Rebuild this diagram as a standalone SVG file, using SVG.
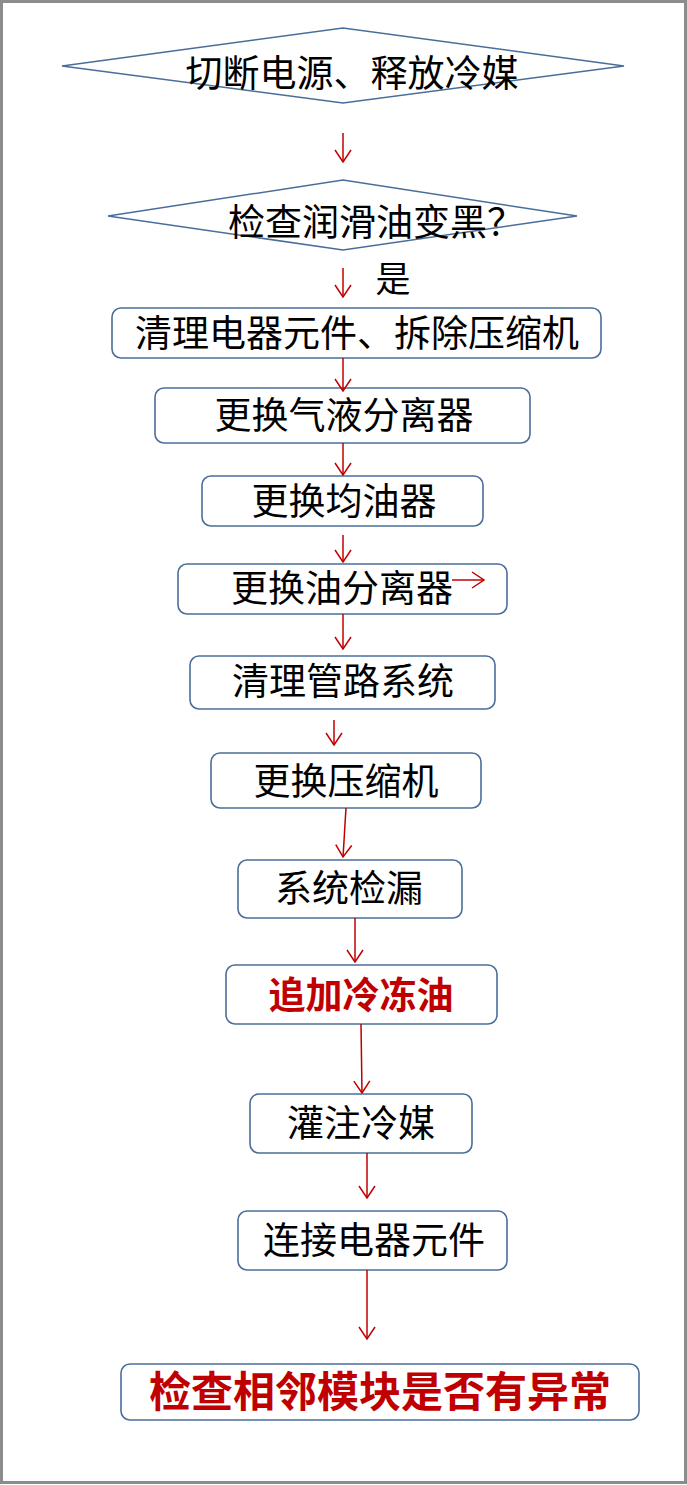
<svg xmlns="http://www.w3.org/2000/svg" width="687" height="1485" viewBox="0 0 687 1485">
<style>
.frame{fill:#ffffff;stroke:#8c8c8c;stroke-width:3}
.dia{fill:none;stroke:#4a6d99;stroke-width:1.5}
.box{fill:#ffffff;stroke:#4a6d99;stroke-width:1.6}
.t{font-family:"Noto Sans CJK SC","Noto Sans",sans-serif;font-size:37px;fill:#000;text-anchor:middle}
.r{fill:#c00000;font-weight:bold}
.arr{fill:none;stroke:#c00000;stroke-width:1.5;marker-end:url(#ah)}
</style>
<defs>
<marker id="ah" markerUnits="userSpaceOnUse" viewBox="-1 -1 14 18" refX="12" refY="8" markerWidth="14" markerHeight="18" orient="auto">
<path d="M0,0 L12,8 L0,16" fill="none" stroke="#c00000" stroke-width="1.5"/>
</marker>
</defs>
<rect class="frame" x="1.5" y="1.5" width="684" height="1481"/>
<g id="n1"><polygon class="dia" points="62,66 343,28 624,66 343,103"/><text class="t" x="352" y="87">切断电源、释放冷媒</text></g>
<g id="n2"><polygon class="dia" points="108,216 343,180 577,216 343,250"/><text class="t" x="376" y="236">检查润滑油变黑？</text></g>
<g id="n3"><rect class="box" x="112" y="308" width="489" height="50" rx="9"/><text class="t" x="357" y="347">清理电器元件、拆除压缩机</text></g>
<g id="n4"><rect class="box" x="155" y="388" width="375" height="55" rx="9"/><text class="t" x="344" y="429">更换气液分离器</text></g>
<g id="n5"><rect class="box" x="202" y="476" width="281" height="50" rx="9"/><text class="t" x="344" y="515">更换均油器</text></g>
<g id="n6"><rect class="box" x="178" y="564" width="329" height="50" rx="9"/><text class="t" x="342" y="602">更换油分离器</text></g>
<g id="n7"><rect class="box" x="190" y="656" width="305" height="53" rx="9"/><text class="t" x="343" y="695">清理管路系统</text></g>
<g id="n8"><rect class="box" x="211" y="753" width="270" height="55" rx="9"/><text class="t" x="346" y="795">更换压缩机</text></g>
<g id="n9"><rect class="box" x="238" y="860" width="224" height="58" rx="9"/><text class="t" x="349" y="902">系统检漏</text></g>
<g id="n10"><rect class="box" x="226" y="965" width="271" height="59" rx="9"/><text class="t r" x="361" y="1009">追加冷冻油</text></g>
<g id="n11"><rect class="box" x="250" y="1094" width="222" height="59" rx="9"/><text class="t" x="361" y="1137">灌注冷媒</text></g>
<g id="n12"><rect class="box" x="238" y="1211" width="269" height="59" rx="9"/><text class="t" x="374" y="1254">连接电器元件</text></g>
<g id="n13"><rect class="box" x="121" y="1364" width="518" height="56" rx="9"/><text class="t r" x="380" y="1407" style="font-size:42px">检查相邻模块是否有异常</text></g>
<g id="label"><text class="t" x="393" y="292" style="font-size:35px">是</text></g>
<g id="connectors">
<line class="arr" x1="343" y1="133" x2="343" y2="162"/>
<line class="arr" x1="343" y1="268" x2="343" y2="297"/>
<line class="arr" x1="343" y1="358" x2="343" y2="391"/>
<line class="arr" x1="343" y1="443" x2="343" y2="475"/>
<line class="arr" x1="343" y1="535" x2="343" y2="562"/>
<line class="arr" x1="343" y1="614" x2="343" y2="649"/>
<line class="arr" x1="334" y1="720" x2="334" y2="745"/>
<line class="arr" x1="346" y1="808" x2="343" y2="857"/>
<line class="arr" x1="355" y1="918" x2="355" y2="962"/>
<line class="arr" x1="361" y1="1024" x2="362" y2="1093"/>
<line class="arr" x1="367" y1="1153" x2="367" y2="1198"/>
<line class="arr" x1="367" y1="1270" x2="367" y2="1339"/>
<line class="arr" x1="452" y1="580" x2="484" y2="580"/>
</g>
</svg>
